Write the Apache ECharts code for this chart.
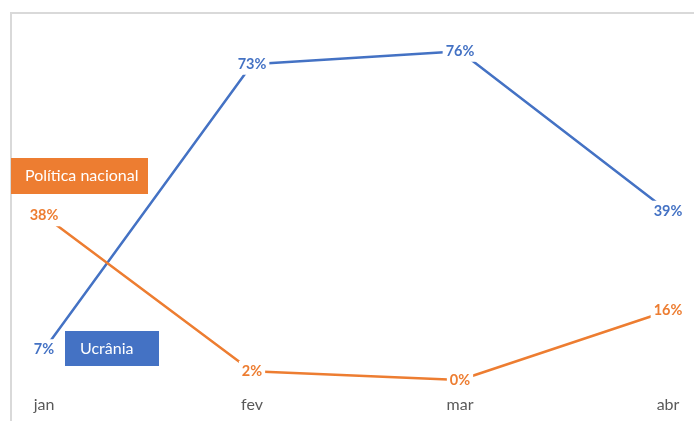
<!DOCTYPE html>
<html>
<head>
<meta charset="utf-8">
<script src="https://cdn.jsdelivr.net/npm/echarts@6/dist/echarts.min.js"></script>
<style>
html,body{margin:0;padding:0;background:#fff;}
#c{width:694px;height:421px;}
</style>
</head>
<body>
<div id="c"></div>
<script>
var categories = ['jan', 'fev', 'mar', 'abr'];
var ucraniaValues = [7, 73, 76, 39];
var politicaValues = [38, 2, 0, 16];
var seriesNames = ['Ucrânia', 'Política nacional'];

var FONT = 'Lato, "Open Sans", sans-serif';
var BLUE = '#4472C4', ORANGE = '#ED7D31';

function mkSeries(name, data, color) {
  return {
    name: name,
    type: 'line',
    data: data,
    symbol: 'circle',
    symbolSize: 0,
    showSymbol: true,
    lineStyle: { color: color, width: 2.5 },
    itemStyle: { color: color },
    label: {
      show: true,
      position: 'inside',
      formatter: '{c}%',
      color: color,
      fontFamily: FONT,
      fontWeight: 'bold',
      fontSize: 14.5,
      backgroundColor: '#fff',
      padding: [3, 3]
    },
    emphasis: { disabled: true },
    animation: false
  };
}

var chart = echarts.init(document.getElementById('c'), null, { renderer: 'canvas' });
chart.setOption({
  animation: false,
  grid: { left: 44, right: 26, top: 34, bottom: 41 },
  xAxis: {
    type: 'category',
    data: categories,
    boundaryGap: false,
    axisLine: { show: false },
    axisTick: { show: false },
    splitLine: { show: false },
    axisLabel: { color: '#595959', fontSize: 16, fontFamily: FONT, margin: 17 }
  },
  yAxis: {
    type: 'value',
    min: 0,
    max: 80,
    show: false
  },
  series: [
    mkSeries(seriesNames[0], ucraniaValues, BLUE),
    mkSeries(seriesNames[1], politicaValues, ORANGE)
  ],
  graphic: [
    { type: 'line', shape: { x1: 11, y1: 12, x2: 11, y2: 421 }, style: { stroke: '#d9d9d9', lineWidth: 2 }, z: 0 },
    { type: 'line', shape: { x1: 10, y1: 13, x2: 694, y2: 13 }, style: { stroke: '#d9d9d9', lineWidth: 2 }, z: 0 },
    { type: 'rect', shape: { x: 11, y: 158, width: 137, height: 36 }, style: { fill: ORANGE }, z: 10 },
    { type: 'text', x: 25, y: 176, z: 11,
      style: { text: seriesNames[1], fill: '#fff', font: '16px ' + FONT, textVerticalAlign: 'middle', verticalAlign: 'middle' } },
    { type: 'rect', shape: { x: 65, y: 331, width: 94, height: 35 }, style: { fill: BLUE }, z: 10 },
    { type: 'text', x: 80, y: 349, z: 11,
      style: { text: seriesNames[0], fill: '#fff', font: '16px ' + FONT, textVerticalAlign: 'middle', verticalAlign: 'middle' } }
  ]
});
</script>
</body>
</html>
